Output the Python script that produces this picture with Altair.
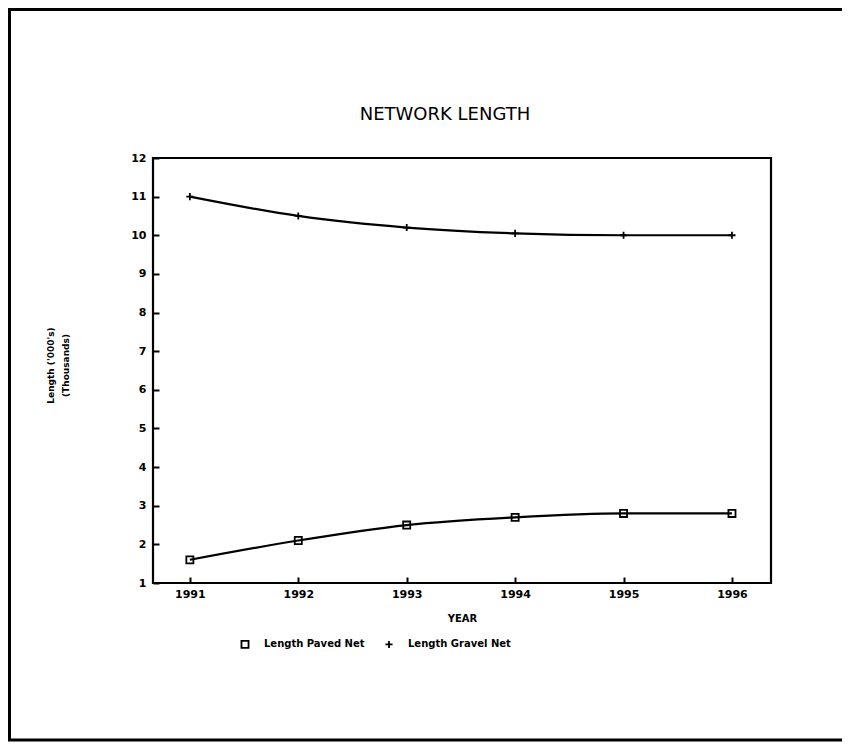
import altair as alt
import pandas as pd

chart_title = "NETWORK LENGTH"
years = [1991, 1992, 1993, 1994, 1995, 1996]
paved = [1.6, 2.1, 2.5, 2.7, 2.8, 2.8]
gravel = [11.0, 10.5, 10.2, 10.05, 10.0, 10.0]
series_names = ["Length Paved Net", "Length Gravel Net"]
y_ticks = list(range(1, 13))

rows = []
for name, vals in zip(series_names, [paved, gravel]):
    for yr, v in zip(years, vals):
        rows.append({"year": yr, "value": v, "series": name})
df = pd.DataFrame(rows)

plus_path = "M -1 0 L 1 0 M 0 -1 L 0 1"

tick_kw = dict(ticks=True, tickSize=6, tickWidth=2, tickColor="black", offset=-6,
               domain=False, grid=False, labelOverlap=False, zindex=1,
               labelColor="black", labelFont="DejaVu Sans", labelFontWeight="bold",
               labelFontSize=11, titleColor="black", titleFont="DejaVu Sans",
               titleFontWeight="bold")

x_axis = alt.Axis(values=years, format="d", title="YEAR", titlePadding=14,
                  labelPadding=5, titleFontSize=10, **tick_kw)
y_axis = alt.Axis(values=y_ticks, format="d", title=["Length ('000's)", "(Thousands)"],
                  titleAngle=-90, titleX=-109, titleY=207, titleAlign="center",
                  titleBaseline="middle", titleLineHeight=15, titleFontSize=9,
                  labelPadding=7, **tick_kw)

x_scale = alt.Scale(domain=[1990.66, 1996.36], nice=False, zero=False)
y_scale = alt.Scale(domain=[1, 12], nice=False, zero=False)

base = alt.Chart(df)

lines = base.mark_line(color="black", strokeWidth=2.2, interpolate="monotone").encode(
    x=alt.X("year:Q", scale=x_scale, axis=x_axis),
    y=alt.Y("value:Q", scale=y_scale, axis=y_axis),
    detail="series:N",
)

points = base.mark_point(filled=False, color="black", strokeWidth=1.8, opacity=1).encode(
    x=alt.X("year:Q", scale=x_scale, axis=x_axis),
    y=alt.Y("value:Q", scale=y_scale, axis=y_axis),
    shape=alt.Shape("series:N",
                    scale=alt.Scale(domain=series_names, range=["square", plus_path]),
                    legend=alt.Legend(title=None, orient="none", direction="horizontal",
                                      legendX=87, legendY=481, columnPadding=16,
                                      symbolStrokeColor="black", symbolFillColor="transparent",
                                      symbolStrokeWidth=1.8, symbolSize=50, labelFontSize=10,
                                      labelFont="DejaVu Sans", labelFontWeight="bold",
                                      labelColor="black", labelOffset=14)),
    size=alt.value(50),
)

deco = alt.Chart(pd.DataFrame({"t": [chart_title]}))

border = deco.mark_rect(
    fill="white", fillOpacity=0, stroke="black", strokeWidth=3, clip=False
).encode(x=alt.value(-143.5), x2=alt.value(720), y=alt.value(-148.5), y2=alt.value(582))

title_text = deco.mark_text(
    font="DejaVu Sans", fontSize=18, fontWeight="normal", color="black",
    align="center", baseline="middle", clip=False
).encode(text="t:N", x=alt.value(292), y=alt.value(-43))

chart = alt.layer(border, title_text, lines, points).properties(
    width=618, height=425,
    autosize=alt.AutoSizeParams(type="none"),
    padding={"left": 145, "top": 150, "right": 71, "bottom": 159},
).configure_view(
    stroke="black", strokeWidth=2.2
)

chart.save("out.html", embed_options={"renderer": "svg", "actions": False})
